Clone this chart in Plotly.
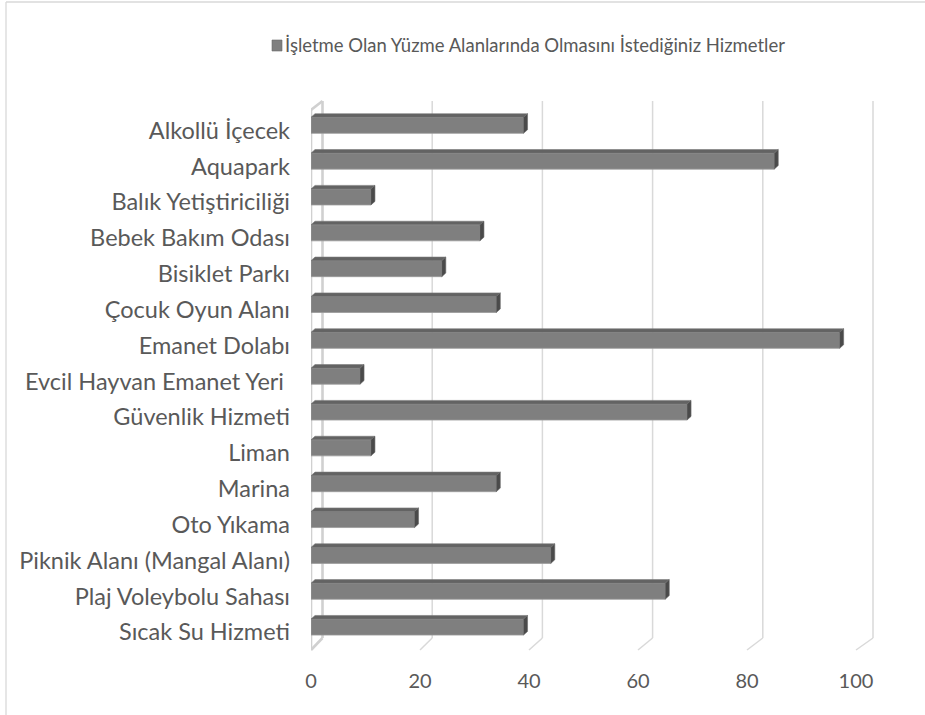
import plotly.graph_objects as go

categories = [
    "Alkollü İçecek", "Aquapark", "Balık Yetiştiriciliği", "Bebek Bakım Odası",
    "Bisiklet Parkı", "Çocuk Oyun Alanı", "Emanet Dolabı", "Evcil Hayvan Emanet Yeri ",
    "Güvenlik Hizmeti", "Liman", "Marina", "Oto Yıkama",
    "Piknik Alanı (Mangal Alanı)", "Plaj Voleybolu Sahası", "Sıcak Su Hizmeti",
]
values = [39, 85, 11, 31, 24, 34, 97, 9, 69, 11, 34, 19, 44, 65, 39]
series_name = "İşletme Olan Yüzme Alanlarında Olmasını İstediğiniz Hizmetler"
x_ticks = [0, 20, 40, 60, 80, 100]

FONT = "Lato, Carlito, 'Open Sans', sans-serif"
TXT = "#595959"

# geometry (pixels)
W, H = 925, 715
L, T = 311, 95
PW = 567
PH = 570
PXU = 5.45
ROW = 35.84
Y0 = 125.3
xr = [0, PW / PXU]
ylo = (T - Y0) / ROW
yhi = (T + PH - Y0) / ROW
yr = [yhi, ylo]
lab_shift = 5.2 / ROW

idx = list(range(len(categories)))
bw = 16 / ROW
DX = 4 / PXU
DY = 3.6 / ROW

fig = go.Figure()

tx, ty, rx, ry = [], [], [], []
for i, v in zip(idx, values):
    top = i - bw / 2
    bot = i + bw / 2
    tx += [0, v, v + DX, DX, 0, None]
    ty += [top, top, top - DY, top - DY, top, None]
    rx += [v, v + DX, v + DX, v, v, None]
    ry += [top, top - DY, bot - DY, bot, top, None]

fig.add_trace(go.Bar(
    y=idx, x=values, orientation="h", width=bw,
    marker=dict(color="#7f7f7f", line=dict(color="#9a9a9a", width=0.8)),
    name=series_name, showlegend=False, hoverinfo="x",
))
fig.add_trace(go.Scatter(x=tx, y=ty, mode="lines", fill="toself",
                         fillcolor="#636363", line=dict(color="#7a7a7a", width=0.6),
                         showlegend=False, hoverinfo="skip"))
fig.add_trace(go.Scatter(x=rx, y=ry, mode="lines", fill="toself",
                         fillcolor="#4a4a4a", line=dict(color="#6a6a6a", width=0.6),
                         showlegend=False, hoverinfo="skip"))
fig.add_trace(go.Scatter(x=[None] * len(idx), y=idx, yaxis="y2", mode="markers",
                         showlegend=False, hoverinfo="skip"))

def py2paper(py):
    return (T + PH - py) / PH

def px2x(px):
    return (px - L) / PXU

def ppx(px):
    return (px - L) / PW

shapes = []
GRID = "#d9d9d9"
back_top, back_bot, front_bot = 101, 638, 650
for t in x_ticks[1:]:
    xb = px2x(322 + 5.51 * t)
    xf = t
    shapes.append(dict(type="line", xref="x", yref="paper", x0=xb, x1=xb,
                       y0=py2paper(back_top), y1=py2paper(back_bot),
                       line=dict(color=GRID, width=1.5), layer="below"))
    shapes.append(dict(type="line", xref="x", yref="paper", x0=xb, x1=xf,
                       y0=py2paper(back_bot), y1=py2paper(front_bot),
                       line=dict(color=GRID, width=1.5), layer="below"))
xb0 = px2x(322.5)
wall = [((0, 110), (0, front_bot)), ((xb0, back_top), (xb0, back_bot)),
        ((0, 110), (xb0, back_top)), ((xb0, back_bot), (0, front_bot))]
for (a, b) in wall:
    shapes.append(dict(type="line", xref="x", yref="paper", x0=a[0], x1=b[0],
                       y0=py2paper(a[1]), y1=py2paper(b[1]),
                       line=dict(color="#d0d0d0", width=2.6), layer="below"))

# chart border (left and top)
shapes.append(dict(type="line", xref="paper", yref="paper", x0=ppx(6), x1=ppx(6),
                   y0=py2paper(2), y1=py2paper(720), line=dict(color="#d9d9d9", width=1.3)))
shapes.append(dict(type="line", xref="paper", yref="paper", x0=ppx(6), x1=ppx(930),
                   y0=py2paper(2), y1=py2paper(2), line=dict(color="#d9d9d9", width=1.3)))
# legend swatch
shapes.append(dict(type="rect", xref="paper", yref="paper", x0=ppx(272), x1=ppx(282),
                   y0=py2paper(51), y1=py2paper(40), fillcolor="#7f7f7f",
                   line=dict(color="#6a6a6a", width=0.6)))

annotations = [dict(text=series_name, xref="paper", yref="paper",
                    x=ppx(283), y=py2paper(45), xanchor="left", yanchor="middle",
                    showarrow=False, font=dict(size=18.5, color=TXT, family=FONT))]

fig.update_layout(
    width=W, height=H,
    margin=dict(l=L, r=W - L - PW, t=T, b=H - T - PH, pad=0, autoexpand=False),
    paper_bgcolor="white", plot_bgcolor="white",
    font=dict(family=FONT, color=TXT, size=18),
    shapes=shapes, annotations=annotations,
    showlegend=False,
    xaxis=dict(range=xr, tickvals=x_ticks, showgrid=False, zeroline=False,
               showline=False, ticks="", tickfont=dict(size=20, color=TXT),
               ticklabelstandoff=2, fixedrange=True, automargin=False),
    yaxis=dict(range=yr, showgrid=False, zeroline=False, showline=False,
               showticklabels=False, ticks="", automargin=False),
    yaxis2=dict(range=[yr[0] - lab_shift, yr[1] - lab_shift], overlaying="y",
                side="left", tickvals=idx, ticktext=categories,
                showgrid=False, zeroline=False, showline=False, ticks="",
                tickfont=dict(size=23.5, color=TXT), ticklabelstandoff=20,
                automargin=False),
)

fig.write_html("out.html", config={"displayModeBar": False},
               post_script="document.body.style.margin='0px';document.body.style.overflow='hidden';")
